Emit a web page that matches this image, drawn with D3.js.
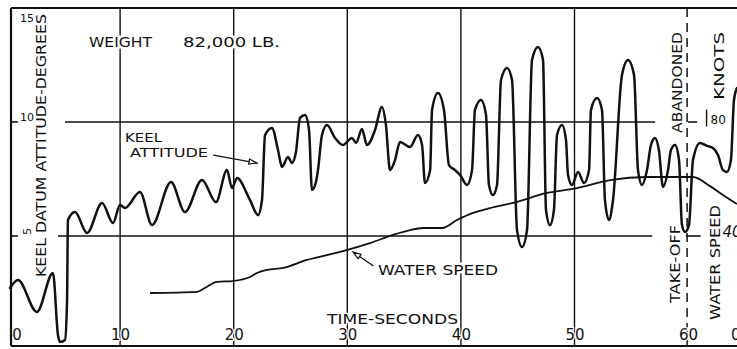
<!DOCTYPE html>
<html>
<head>
<meta charset="utf-8">
<script src="https://cdn.jsdelivr.net/npm/d3@7"></script>
<style>
  html, body { margin: 0; padding: 0; background: #fff; }
  svg { display: block; }
  text { font-family: "DejaVu Sans", sans-serif; fill: #111; }
  .halo { stroke: #fff; stroke-width: 5px; paint-order: stroke; stroke-linejoin: round; }
  .halo-thin { stroke: #fff; stroke-width: 2.5px; paint-order: stroke; stroke-linejoin: round; }
</style>
</head>
<body>
<svg id="chart" width="737" height="349"></svg>
<script>
// Time axis (seconds) and attitude axis (degrees)
const timeTicks = [0, 10, 20, 30, 40, 50, 60];
const degreeTicks = [5, 10, 15];
const knotTicks = [40, 80];

// Keel datum attitude, degrees, against time in seconds
const keelTime = [0.31, 1.01, 2.68, 4.09, 4.53, 4.71, 5.15, 5.33, 5.41, 6.03, 7.09, 8.41, 9.38, 9.99, 10.43,
  11.75, 12.81, 14.48, 15.71, 17.21, 18.44, 19.41, 19.85, 20.29, 21.43, 22.14, 22.49, 22.76, 23.37, 23.90,
  24.25, 24.78, 25.13, 25.48, 25.84, 26.28, 26.63, 26.89, 27.24, 27.42, 27.77, 28.21, 28.92, 29.62, 30.41,
  30.77, 31.29, 31.73, 32.44, 33.05, 33.40, 33.76, 34.20, 34.64, 35.52, 36.22, 36.58, 36.84, 37.29, 37.46,
  37.98, 38.51, 38.95, 39.48, 39.92, 40.54, 40.98, 41.24, 41.77, 42.21, 42.47, 42.82, 43.18, 43.53, 44.06,
  44.50, 44.94, 45.38, 45.82, 46.26, 46.79, 47.23, 47.49, 47.84, 48.19, 48.46, 48.90, 49.25, 49.43, 49.78,
  50.31, 50.84, 51.28, 51.45, 51.98, 52.42, 52.68, 53.03, 53.39, 54.18, 54.71, 55.24, 55.59, 55.94, 56.38,
  56.73, 57.08, 57.43, 57.79, 58.23, 58.49, 58.85, 59.20, 59.46, 59.73, 60.08, 60.43, 61.05, 61.67, 62.19,
  62.63, 63.07, 63.42, 63.77, 64.04, 64.30];
const keelDegrees = [2.72, 3.07, 1.67, 3.38, 0.66, 0.35, 0.44, 2.19, 5.70, 6.05, 5.13, 6.45, 5.57, 6.36, 6.23,
  6.93, 5.48, 7.37, 6.05, 7.46, 6.49, 7.89, 7.11, 7.54, 6.58, 5.92, 6.58, 9.43, 9.74, 8.77,
  8.03, 8.46, 8.20, 8.68, 10.18, 10.31, 9.65, 7.02, 7.37, 7.89, 9.43, 9.87, 9.30, 8.99, 9.30,
  9.08, 9.69, 8.99, 9.65, 10.66, 9.87, 7.89, 8.33, 9.12, 8.90, 9.43, 8.99, 7.32, 7.89, 10.53,
  11.27, 10.53, 8.11, 7.89, 7.68, 7.24, 7.89, 10.53, 10.96, 10.31, 7.24, 6.80, 7.24, 11.84, 12.37,
  11.84, 5.26, 4.52, 5.26, 12.72, 13.29, 12.72, 6.14, 5.48, 6.14, 9.43, 9.87, 9.21, 7.68, 7.24,
  7.81, 7.32, 7.89, 10.53, 11.05, 10.53, 6.58, 5.70, 6.58, 12.06, 12.72, 12.06, 7.89, 7.24, 7.89,
  8.99, 9.30, 8.77, 7.15, 7.89, 8.77, 8.99, 8.33, 5.48, 5.18, 5.48, 8.33, 9.08, 8.95, 8.86,
  8.55, 7.89, 7.81, 8.33, 10.96, 11.49];

// Water speed, knots, against time in seconds
const speedTime = [12.63, 16.77, 17.47, 18.53, 19.94, 21.43, 22.05, 22.93, 24.34, 26.45, 29.62, 31.99, 34.02,
  35.52, 36.66, 38.34, 39.66, 41.07, 42.56, 44.59, 47.58, 50.22, 53.13, 56.38, 60.43, 61.93, 63.07, 64.30];
const speedKnots = [20.0, 20.4, 21.8, 23.9, 24.2, 25.6, 27.0, 28.1, 28.8, 31.6, 34.7, 37.5, 40.4,
  42.1, 42.8, 42.8, 45.6, 48.1, 49.8, 51.6, 55.1, 56.8, 59.6, 60.7, 60.7, 57.5, 54.4, 51.2];

const svg = d3.select("#chart");
const ink = "#111";

const frame = { left: 11, top: 8, bottom: 346, right: 737 };
const x = d3.scaleLinear().domain([0, 60]).range([6.5, 688.1]);
const y = d3.scaleLinear().domain([0, 15]).range([350, 8]);
const yKnots = d3.scaleLinear().domain([0, 120]).range([350, 8]);

// ---- grid ----
const grid = svg.append("g").attr("stroke", ink).attr("fill", "none");
timeTicks.filter(t => t > 0 && t < 60).forEach(t => {
  grid.append("line")
    .attr("x1", x(t)).attr("x2", x(t))
    .attr("y1", frame.top).attr("y2", frame.bottom)
    .attr("stroke-width", 1.4);
});
// take-off line
grid.append("line")
  .attr("x1", x(60) - 1).attr("x2", x(60) - 1)
  .attr("y1", frame.top).attr("y2", frame.bottom)
  .attr("stroke-width", 1.5).attr("stroke-dasharray", "9,6");

// horizontal attitude lines, broken around the lettering
const hSegments = [
  { d: 10, from: 5.15, to: 57.1 }, { d: 10, from: 0.4, to: 1.0 }, { d: 10, from: 60.0, to: 60.8 },
  { d: 5, from: 4.53, to: 56.85 }, { d: 5, from: 0.4, to: 1.0 }, { d: 5, from: 59.8, to: 61.1 }
];
hSegments.forEach(s => {
  grid.append("line")
    .attr("x1", x(s.from)).attr("x2", x(s.to))
    .attr("y1", y(s.d)).attr("y2", y(s.d))
    .attr("stroke-width", 1.6);
});

// ---- lettering ----
function label(txt, px, py, size, len, rot, cls) {
  const t = svg.append("text").attr("class", cls || "halo")
    .attr("font-size", size).attr("textLength", len).attr("lengthAdjust", "spacingAndGlyphs")
    .text(txt);
  if (rot) {
    t.attr("transform", `translate(${px},${py}) rotate(-90)`).attr("text-anchor", "middle");
  } else {
    t.attr("x", px).attr("y", py);
  }
  return t;
}
label("WEIGHT", 89, 47, 13.5, 63);
label("82,000 LB.", 183, 47, 13.5, 97);
label("KEEL", 125, 142, 12, 37);
label("ATTITUDE", 130, 157, 12, 78);
label("WATER SPEED", 378, 275, 14, 120);
label("TIME-SECONDS", 327, 324, 14, 131, false, "halo-thin");
label("KEEL DATUM ATTITUDE-DEGREES", 46, 145.5, 14, 263, true);
label("ABANDONED", 682, 82.5, 13.5, 101, true);
label("TAKE-OFF", 680, 264, 13.5, 78, true);
label("WATER SPEED", 720, 262.5, 14, 115, true);
label("KNOTS", 724, 66, 14, 68, true);

// ---- axes (labels only) ----
const xAxis = svg.append("g")
  .attr("transform", `translate(0,${frame.bottom - 20})`)
  .call(d3.axisBottom(x).tickValues(timeTicks).tickSize(0).tickFormat(d3.format("d")));
xAxis.select(".domain").remove();
xAxis.selectAll("text")
  .attr("class", "halo-thin")
  .attr("font-size", 15).attr("font-family", "DejaVu Sans").attr("fill", ink);
xAxis.selectAll(".tick").filter(d => d === 0)
  .attr("transform", `translate(${frame.left + 6},0)`);

const yAxis = svg.append("g")
  .attr("transform", `translate(${frame.left + 9},0)`)
  .call(d3.axisRight(y).tickValues(degreeTicks).tickSize(0).tickFormat(d3.format("d")));
yAxis.select(".domain").remove();
yAxis.selectAll("text")
  .attr("class", "halo")
  .attr("x", 0).attr("font-size", 11).attr("font-family", "DejaVu Sans").attr("fill", ink)
  .attr("text-anchor", "start");
yAxis.selectAll(".tick").filter(d => d === 15).select("text").attr("dy", "1.2em");
yAxis.selectAll(".tick").filter(d => d === 10).select("text").attr("dy", "-0.15em");
yAxis.selectAll(".tick").filter(d => d === 5).select("text")
  .attr("dy", 0).attr("transform", "translate(11,-5) rotate(-90)").attr("text-anchor", "middle");

// knots scale on the right
const kAxis = svg.append("g")
  .attr("transform", `translate(${x(61.8)},0)`)
  .call(d3.axisRight(yKnots).tickValues(knotTicks).tickSize(0).tickFormat(d3.format("d")));
kAxis.select(".domain").remove();
kAxis.selectAll("text").attr("font-size", 12).attr("font-family", "DejaVu Sans").attr("fill", ink)
  .attr("x", 0).attr("text-anchor", "start");
kAxis.selectAll(".tick").filter(d => d === 80).select("text").attr("dy", "0.1em").attr("x", 2);
kAxis.selectAll(".tick").filter(d => d === 80).append("line")
  .attr("x1", -2).attr("x2", -2).attr("y1", -13).attr("y2", 4).attr("stroke", ink).attr("stroke-width", 1.4);
kAxis.selectAll(".tick").filter(d => d === 40).select("text").attr("dy", "0.05em").attr("x", 14)
  .attr("font-size", 15).attr("font-style", "italic");
svg.append("text").attr("class", "halo-thin")
  .attr("x", 731).attr("y", frame.bottom - 6)
  .attr("font-size", 15).text("0");

// ---- frame ----
const fr = svg.append("g").attr("stroke", ink).attr("fill", "none").attr("stroke-width", 2.2);
fr.append("line").attr("x1", frame.left).attr("x2", frame.right).attr("y1", frame.top).attr("y2", frame.top);
fr.append("line").attr("x1", frame.left).attr("x2", frame.right).attr("y1", frame.bottom).attr("y2", frame.bottom);
fr.append("line").attr("x1", frame.left).attr("x2", frame.left).attr("y1", frame.top).attr("y2", frame.bottom);

// ---- curves ----
const keelData = keelTime.map((t, i) => [t, keelDegrees[i]]);
const speedData = speedTime.map((t, i) => [t, speedKnots[i]]);

svg.append("path")
  .datum(speedData)
  .attr("fill", "none").attr("stroke", ink).attr("stroke-width", 1.8)
  .attr("stroke-linejoin", "round")
  .attr("d", d3.line().x(d => x(d[0])).y(d => yKnots(d[1])).curve(d3.curveMonotoneX));

svg.append("path")
  .datum(keelData)
  .attr("fill", "none").attr("stroke", ink).attr("stroke-width", 2.5)
  .attr("stroke-linejoin", "round").attr("stroke-linecap", "round")
  .attr("d", d3.line().x(d => x(d[0])).y(d => y(d[1])).curve(d3.curveMonotoneX));

// ---- pointers ----
function pointer(x1, y1, x2, y2) {
  const g = svg.append("g").attr("stroke", ink).attr("fill", "#fff");
  g.append("line").attr("x1", x1).attr("y1", y1).attr("x2", x2).attr("y2", y2).attr("stroke-width", 1.3);
  const a = Math.atan2(y2 - y1, x2 - x1), L = 8, w = 2.6;
  const bx = x2 - L * Math.cos(a), by = y2 - L * Math.sin(a);
  const px = -Math.sin(a) * w, py = Math.cos(a) * w;
  g.append("path")
    .attr("d", `M${x2},${y2}L${bx + px},${by + py}L${bx - px},${by - py}Z`)
    .attr("stroke-width", 1.2);
}
pointer(x(18.2), y(8.55), x(22.05), y(8.2));
pointer(x(32.3), yKnots(29.5), x(30.5), yKnots(34.4));
</script>
</body>
</html>
